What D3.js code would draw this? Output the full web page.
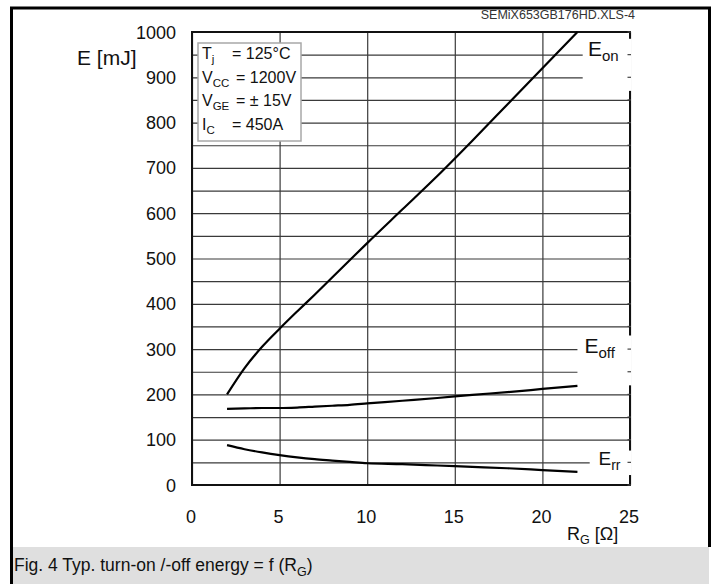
<html>

<head>
  <script src="https://d3js.org/d3.v7.min.js"></script>
</head>

<style>
  body {
    margin: 0;
    background: white;
  }

  text {
    font-family: "Liberation Sans", Arial, sans-serif;
    fill: #111;
  }

  .grid line {
    stroke: #3a3a3a;
    stroke-width: 1.2px;
  }

  .grid path {
    display: none;
  }

  .curve {
    fill: none;
    stroke: black;
    stroke-width: 2.2px;
  }
</style>

<body>

  <svg id="chart" height="584" width="715"></svg>

  <script>

    // gate resistance RG [Ohm] and energies [mJ]
    const rg = [2, 3, 4, 5, 6, 7, 8, 9, 10, 12, 14, 16, 18, 20, 22];
    const eOn = [200, 258, 305, 345, 383, 420, 458, 496, 534, 608, 682, 760, 840, 920, 1000];
    const eOff = [168, 169, 170, 170, 171, 173, 175, 177, 180, 186, 192, 199, 205, 212, 219];
    const eRr = [88, 79, 72, 66, 61, 57, 54, 51, 48, 46, 43, 40, 37, 33, 29];

    const xTicks = [0, 5, 10, 15, 20, 25];
    const yTicks = [0, 100, 200, 300, 400, 500, 600, 700, 800, 900, 1000];
    const yGrid = d3.range(0, 1001, 50);

    const curveNames = [["E", "on"], ["E", "off"], ["E", "rr"]];
    const conditions = [
      ["T", "j", "= 125\u00b0C"],
      ["V", "CC", "= 1200V"],
      ["V", "GE", "= \u00b1 15V"],
      ["I", "C", "= 450A"]
    ];
    const fileTag = "SEMiX653GB176HD.XLS-4";
    const caption = ["Fig. 4 Typ. turn-on /-off energy = f (R", "G", ")"];

    const svg = d3.select("svg#chart");
    const margin = { top: 32, right: 85, bottom: 99, left: 192 };
    const width = +svg.attr("width");
    const height = +svg.attr("height");

    const xScale = d3.scaleLinear().domain([0, 25]).range([margin.left, width - margin.right]);
    const yScale = d3.scaleLinear().domain([0, 1000]).range([height - margin.bottom, margin.top]);

    // caption band + outer frame
    svg.append("rect")
      .attr("x", 13).attr("y", 547).attr("width", 696).attr("height", 37)
      .attr("fill", "#dfdfdf");
    svg.append("path")
      .attr("d", "M11.5,584 V8 H709.5 V547")
      .attr("fill", "none").attr("stroke", "black").attr("stroke-width", 3);

    let capText = svg.append("text")
      .attr("x", 14).attr("y", 571)
      .style("font-size", "17.5px");
    capText.append("tspan").text(caption[0]);
    capText.append("tspan").attr("dy", 5).style("font-size", "12.5px").text(caption[1]);
    capText.append("tspan").attr("dy", -5).text(caption[2]);

    svg.append("text")
      .attr("x", 635).attr("y", 19)
      .attr("text-anchor", "end")
      .style("font-size", "12.5px")
      .style("fill", "#333")
      .text(fileTag);

    // grid
    svg.append("g")
      .attr("class", "grid")
      .attr("transform", `translate(0,${yScale(0)})`)
      .call(d3.axisBottom(xScale).tickValues(xTicks).tickSize(-(yScale(0) - yScale(1000))).tickFormat(""));
    svg.append("g")
      .attr("class", "grid")
      .attr("transform", `translate(${xScale(0)},0)`)
      .call(d3.axisLeft(yScale).tickValues(yGrid).tickSize(-(xScale(25) - xScale(0))).tickFormat(""));

    // plot border
    svg.append("rect")
      .attr("x", xScale(0)).attr("y", yScale(1000))
      .attr("width", xScale(25) - xScale(0))
      .attr("height", yScale(0) - yScale(1000))
      .attr("fill", "none").attr("stroke", "#111").attr("stroke-width", 2);

    // tick labels
    const tickFont = "18px";
    svg.append("g").selectAll("text")
      .data(yTicks).join("text")
      .attr("x", 176)
      .attr("y", d => yScale(d) + 6.5)
      .attr("text-anchor", "end")
      .style("font-size", tickFont)
      .text(d => d);
    svg.append("g").selectAll("text")
      .data(xTicks).join("text")
      .attr("x", d => xScale(d) - 1)
      .attr("y", 523)
      .attr("text-anchor", "middle")
      .style("font-size", tickFont)
      .text(d => d);

    svg.append("text")
      .attr("x", 77).attr("y", 65)
      .style("font-size", "21px")
      .text("E [mJ]");

    let xLab = svg.append("text")
      .attr("x", 567).attr("y", 540)
      .style("font-size", "18px");
    xLab.append("tspan").text("R");
    xLab.append("tspan").attr("dy", 4).style("font-size", "12.5px").text("G");
    xLab.append("tspan").attr("dy", -4).text(" [\u03a9]");

    // curve labels sit in white boxes cut into grid + right border
    const labelBoxes = [
      { x0: 22.3, x1: 25.1, y0: 985, y1: 870 },
      { x0: 22.0, x1: 25.1, y0: 330, y1: 220 },
      { x0: 22.7, x1: 25.1, y0: 76, y1: 22 }
    ];
    const labelPos = [[22.6, 948], [22.4, 292], [23.2, 44]];

    labelBoxes.forEach((b, i) => {
      svg.append("rect")
        .attr("x", xScale(b.x0)).attr("y", yScale(b.y0))
        .attr("width", xScale(b.x1) - xScale(b.x0))
        .attr("height", yScale(b.y1) - yScale(b.y0))
        .attr("fill", "white");
      let t = svg.append("text")
        .attr("x", xScale(labelPos[i][0]))
        .attr("y", yScale(labelPos[i][1]))
        .style("font-size", i == 2 ? "19px" : "21px");
      t.append("tspan").text(curveNames[i][0]);
      t.append("tspan").attr("dy", 5).style("font-size", i == 2 ? "14px" : "15px").text(curveNames[i][1]);
    });

    // little stubs on the right edge
    svg.append("g").selectAll("line")
      .data(yGrid).join("line")
      .attr("x1", xScale(25) - 2.5).attr("x2", xScale(25) + 1)
      .attr("y1", d => yScale(d)).attr("y2", d => yScale(d))
      .attr("stroke", "#444").attr("stroke-width", 1.2);

    // curves
    const lineGen = d3.line()
      .x(d => xScale(d[0]))
      .y(d => yScale(d[1]))
      .curve(d3.curveMonotoneX);

    [eOn, eOff, eRr].forEach(series => {
      svg.append("path")
        .datum(rg.map((r, i) => [r, series[i]]))
        .attr("class", "curve")
        .attr("d", lineGen);
    });

    // conditions box
    svg.append("rect")
      .attr("x", 198).attr("y", 43).attr("width", 103).attr("height", 98)
      .attr("fill", "white").attr("stroke", "#a8a8a8").attr("stroke-width", 1.5);

    conditions.forEach((c, i) => {
      let t = svg.append("text")
        .attr("x", 202).attr("y", 59 + i * 23.5)
        .style("font-size", "16px");
      t.append("tspan").text(c[0]);
      t.append("tspan").attr("dy", 4).style("font-size", "11.5px").text(c[1]);
      t.append("tspan")
        .attr("x", c[1].length > 1 ? 236 : 232)
        .attr("dy", -4)
        .text(c[2]);
    });

  </script>

</body>

</html>
